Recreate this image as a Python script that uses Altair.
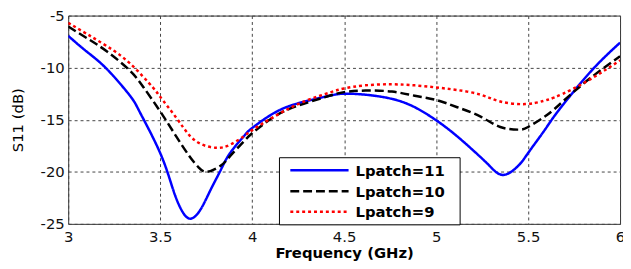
import altair as alt
import pandas as pd

series_names = ["Lpatch=11", "Lpatch=10", "Lpatch=9"]
series_colors = ["#0000FF", "#000000", "#FF0000"]
series_dashes = [[1, 0], [9, 4], [3, 3]]

freq_11 = [3.0, 3.1, 3.211, 3.336, 3.39, 3.5, 3.57, 3.62, 3.667, 3.72, 3.775, 3.83, 3.88, 3.954, 4.0,
           4.13, 4.276, 4.42, 4.5, 4.616, 4.76, 4.884, 5.0, 5.115, 5.242, 5.3, 5.367, 5.448, 5.5,
           5.582, 5.645, 5.743, 5.868, 6.0]
s11_11 = [-6.95, -8.45, -10.15, -12.7, -14.3, -18.2, -21.7, -23.8, -24.5, -23.6, -21.7, -19.8, -18.2, -16.6, -15.8,
          -14.25, -13.3, -12.7, -12.5, -12.6, -13.0, -13.8, -15.05, -16.6, -18.6, -19.6, -20.3, -19.4, -18.2,
          -16.2, -14.6, -12.4, -9.85, -7.6]

freq_10 = [3.0, 3.1, 3.211, 3.336, 3.41, 3.5, 3.587, 3.659, 3.71, 3.757, 3.83, 3.88, 3.954, 4.0,
           4.13, 4.276, 4.42, 4.5, 4.616, 4.76, 4.884, 5.0, 5.115, 5.242, 5.349, 5.448, 5.5,
           5.582, 5.645, 5.743, 5.868, 6.0]
s11_10 = [-6.05, -7.15, -8.45, -10.3, -11.9, -14.2, -16.6, -18.5, -19.6, -20.0, -19.4, -18.5, -17.1, -16.3,
          -14.6, -13.5, -12.7, -12.35, -12.2, -12.3, -12.7, -13.1, -13.8, -14.7, -15.7, -15.95, -15.7,
          -14.8, -13.95, -12.4, -10.6, -8.9]

freq_9 = [3.0, 3.1, 3.211, 3.336, 3.46, 3.5, 3.587, 3.659, 3.73, 3.81, 3.88, 3.954, 4.0,
          4.13, 4.276, 4.42, 4.5, 4.616, 4.76, 4.884, 5.0, 5.115, 5.242, 5.349, 5.484,
          5.582, 5.645, 5.743, 5.868, 6.0]
s11_9 = [-5.7, -6.75, -7.95, -9.6, -11.9, -12.8, -14.8, -16.5, -17.4, -17.7, -17.4, -16.6, -16.0,
         -14.6, -13.3, -12.4, -12.0, -11.7, -11.6, -11.7, -11.9, -12.15, -12.6, -13.25, -13.5,
         -13.2, -12.85, -12.05, -10.8, -9.3]

x_ticks = [3, 3.5, 4, 4.5, 5, 5.5, 6]
y_ticks = [-25, -20, -15, -10, -5]

rows = []
for name, fs, vs in [(series_names[0], freq_11, s11_11),
                     (series_names[1], freq_10, s11_10),
                     (series_names[2], freq_9, s11_9)]:
    for f, v in zip(fs, vs):
        rows.append({"freq": f, "s11": v, "series": name})
df = pd.DataFrame(rows)

FONT = "DejaVu Sans"

lines = alt.Chart(df).mark_line(strokeWidth=2.5, interpolate="natural", clip=True).encode(
    x=alt.X("freq:Q",
            scale=alt.Scale(domain=[3, 6], nice=False, zero=False),
            axis=alt.Axis(values=x_ticks, labelExpr="'' + datum.value", title="Frequency (GHz)",
                          titleFontWeight="bold", titleFontSize=15, titleFont=FONT,
                          titleX=279.5, titleY=34.5, titleBaseline="alphabetic",
                          labelPadding=6, labelFlush=False)),
    y=alt.Y("s11:Q",
            scale=alt.Scale(domain=[-25, -5], nice=False, zero=False),
            axis=alt.Axis(values=y_ticks, labelExpr="'' + datum.value", title="S11 (dB)",
                          titleFontWeight="normal", titleFontSize=15, titleFont=FONT,
                          titleX=-51, titleY=105.5, titleAngle=-90, titleBaseline="middle",
                          titleAlign="center", labelPadding=4, labelFlush=False)),
    color=alt.Color("series:N", scale=alt.Scale(domain=series_names, range=series_colors), legend=None),
    strokeDash=alt.StrokeDash("series:N", scale=alt.Scale(domain=series_names, range=series_dashes), legend=None),
)

# Hand-drawn legend box (styling only)
one = pd.DataFrame({"k": [0]})
leg_box = alt.Chart(one).mark_rect(fill="white", stroke="black", strokeWidth=1).encode(
    x=alt.value(214), x2=alt.value(397), y=alt.value(144), y2=alt.value(212)
)
leg_layers = [leg_box]
row_y = [156.7, 178.0, 198.7]
for name, col, dash, yy in zip(series_names, series_colors, series_dashes, row_y):
    leg_layers.append(
        alt.Chart(one).mark_rule(stroke=col, strokeWidth=2.5, strokeDash=dash).encode(
            x=alt.value(225), x2=alt.value(284), y=alt.value(yy)
        )
    )
    leg_layers.append(
        alt.Chart(one).mark_text(font=FONT, fontSize=15, fontWeight="bold", align="left",
                                 baseline="middle", color="black").encode(
            x=alt.value(291), y=alt.value(yy + 0.5), text=alt.value(name)
        )
    )

chart = alt.layer(lines, *leg_layers).properties(
    width=559, height=211,
    autosize=alt.AutoSizeParams(type="none"),
    padding={"left": 61, "top": 6, "right": 3, "bottom": 40},
).configure_view(
    stroke="#333333", strokeWidth=1
).configure_axis(
    grid=True, gridColor="#444444", gridDash=[3, 3], gridWidth=1, gridOpacity=1,
    domain=False, ticks=False,
    labelFont=FONT, labelFontSize=15, labelColor="#111111",
    titleColor="#000000",
)

chart.save("out.html", embed_options={"renderer": "svg", "actions": False})
